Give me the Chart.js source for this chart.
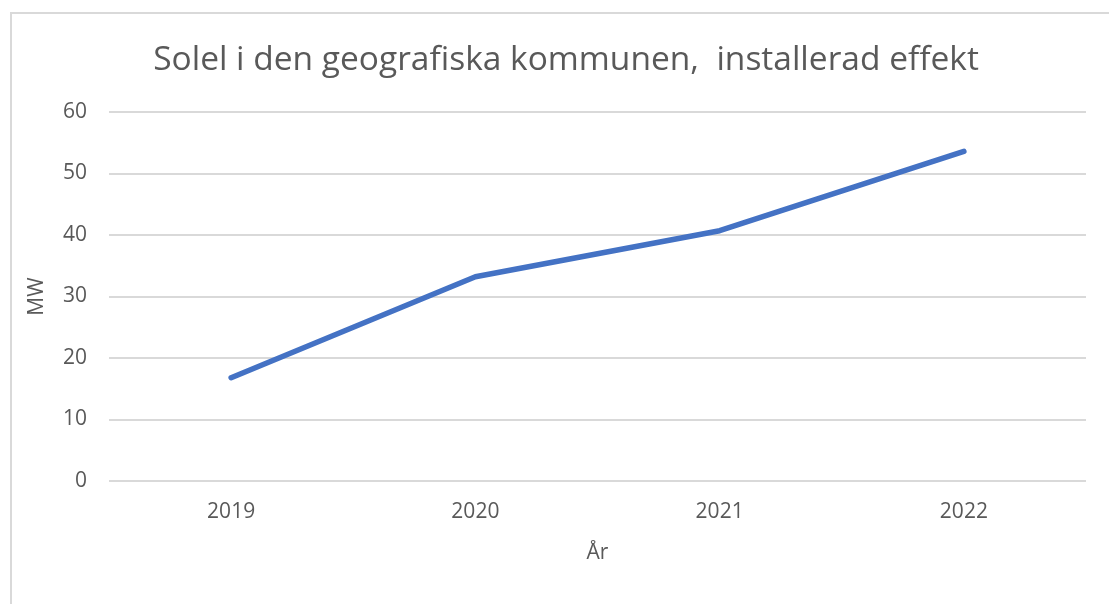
<!DOCTYPE html>
<html>
<head>
<meta charset="utf-8">
<script src="https://cdn.jsdelivr.net/npm/chart.js@4/dist/chart.umd.min.js"></script>
<style>
  html, body { margin: 0; padding: 0; background: #ffffff; overflow: hidden; }
  #wrap { position: absolute; left: 0; top: 0; width: 1109px; height: 604px; }
  #frame { position: absolute; left: 10px; top: 12px; width: 1200px; height: 700px;
           border-top: 2px solid #d9d9d9; border-left: 2px solid #d9d9d9; box-sizing: border-box; pointer-events: none; }
</style>
</head>
<body>
<div id="wrap"><canvas id="c" width="1109" height="604"></canvas></div>
<div id="frame"></div>
<script>
const categories = ["2019", "2020", "2021", "2022"];
const mwValues = [16.8, 33.2, 40.7, 53.6];
const yTicks = [0, 10, 20, 30, 40, 50, 60];
const titleText = "Solel i den geografiska kommunen,  installerad effekt";
const yTitle = "MW";
const xTitle = "År";

const textColor = "#595959";
const fontFam = "'Open Sans', 'Noto Sans', sans-serif";

new Chart(document.getElementById("c"), {
  type: "line",
  data: {
    labels: categories,
    datasets: [{
      data: mwValues,
      borderColor: "#4472C4",
      backgroundColor: "#4472C4",
      borderWidth: 5.5,
      pointRadius: 0,
      pointHoverRadius: 0,
      tension: 0,
      borderCapStyle: "round",
      borderJoinStyle: "round",
      fill: false
    }]
  },
  options: {
    responsive: false,
    animation: false,
    devicePixelRatio: 1,
    layout: { padding: { left: 23, right: 0, top: 0, bottom: 0 } },
    plugins: {
      legend: { display: false },
      tooltip: { enabled: false },
      title: {
        display: true,
        text: titleText,
        color: textColor,
        font: { family: fontFam, size: 33.5, weight: "normal" },
        padding: { top: 40, bottom: 31.8 }
      }
    },
    scales: {
      x: {
        offset: true,
        grid: { display: false, drawTicks: false },
        border: { display: false },
        ticks: { color: textColor, font: { family: fontFam, size: 21 }, padding: 18 },
        title: { display: true, text: xTitle, color: textColor, font: { family: fontFam, size: 21 }, padding: { top: 0, bottom: 38 } },
        afterFit: (s) => { s.height = 604 - 481; }
      },
      y: {
        min: 0,
        max: 60,
        afterBuildTicks: (s) => { s.ticks = yTicks.map(v => ({ value: v })); },
        grid: { color: "#d9d9d9", lineWidth: 2, drawTicks: false },
        border: { display: false },
        ticks: { color: textColor, font: { family: fontFam, size: 21 }, padding: 22 },
        title: { display: true, text: yTitle, color: textColor, font: { family: fontFam, size: 21 }, padding: { top: 1.4, bottom: 0 } },
        afterFit: (s) => { s.width = 109 - 23; }
      },
      yRight: {
        position: "right",
        display: true,
        grid: { display: false, drawTicks: false },
        border: { display: false },
        ticks: { display: false },
        afterFit: (s) => { s.width = 1109 - 1086; }
      }
    }
  }
});
</script>
</body>
</html>
